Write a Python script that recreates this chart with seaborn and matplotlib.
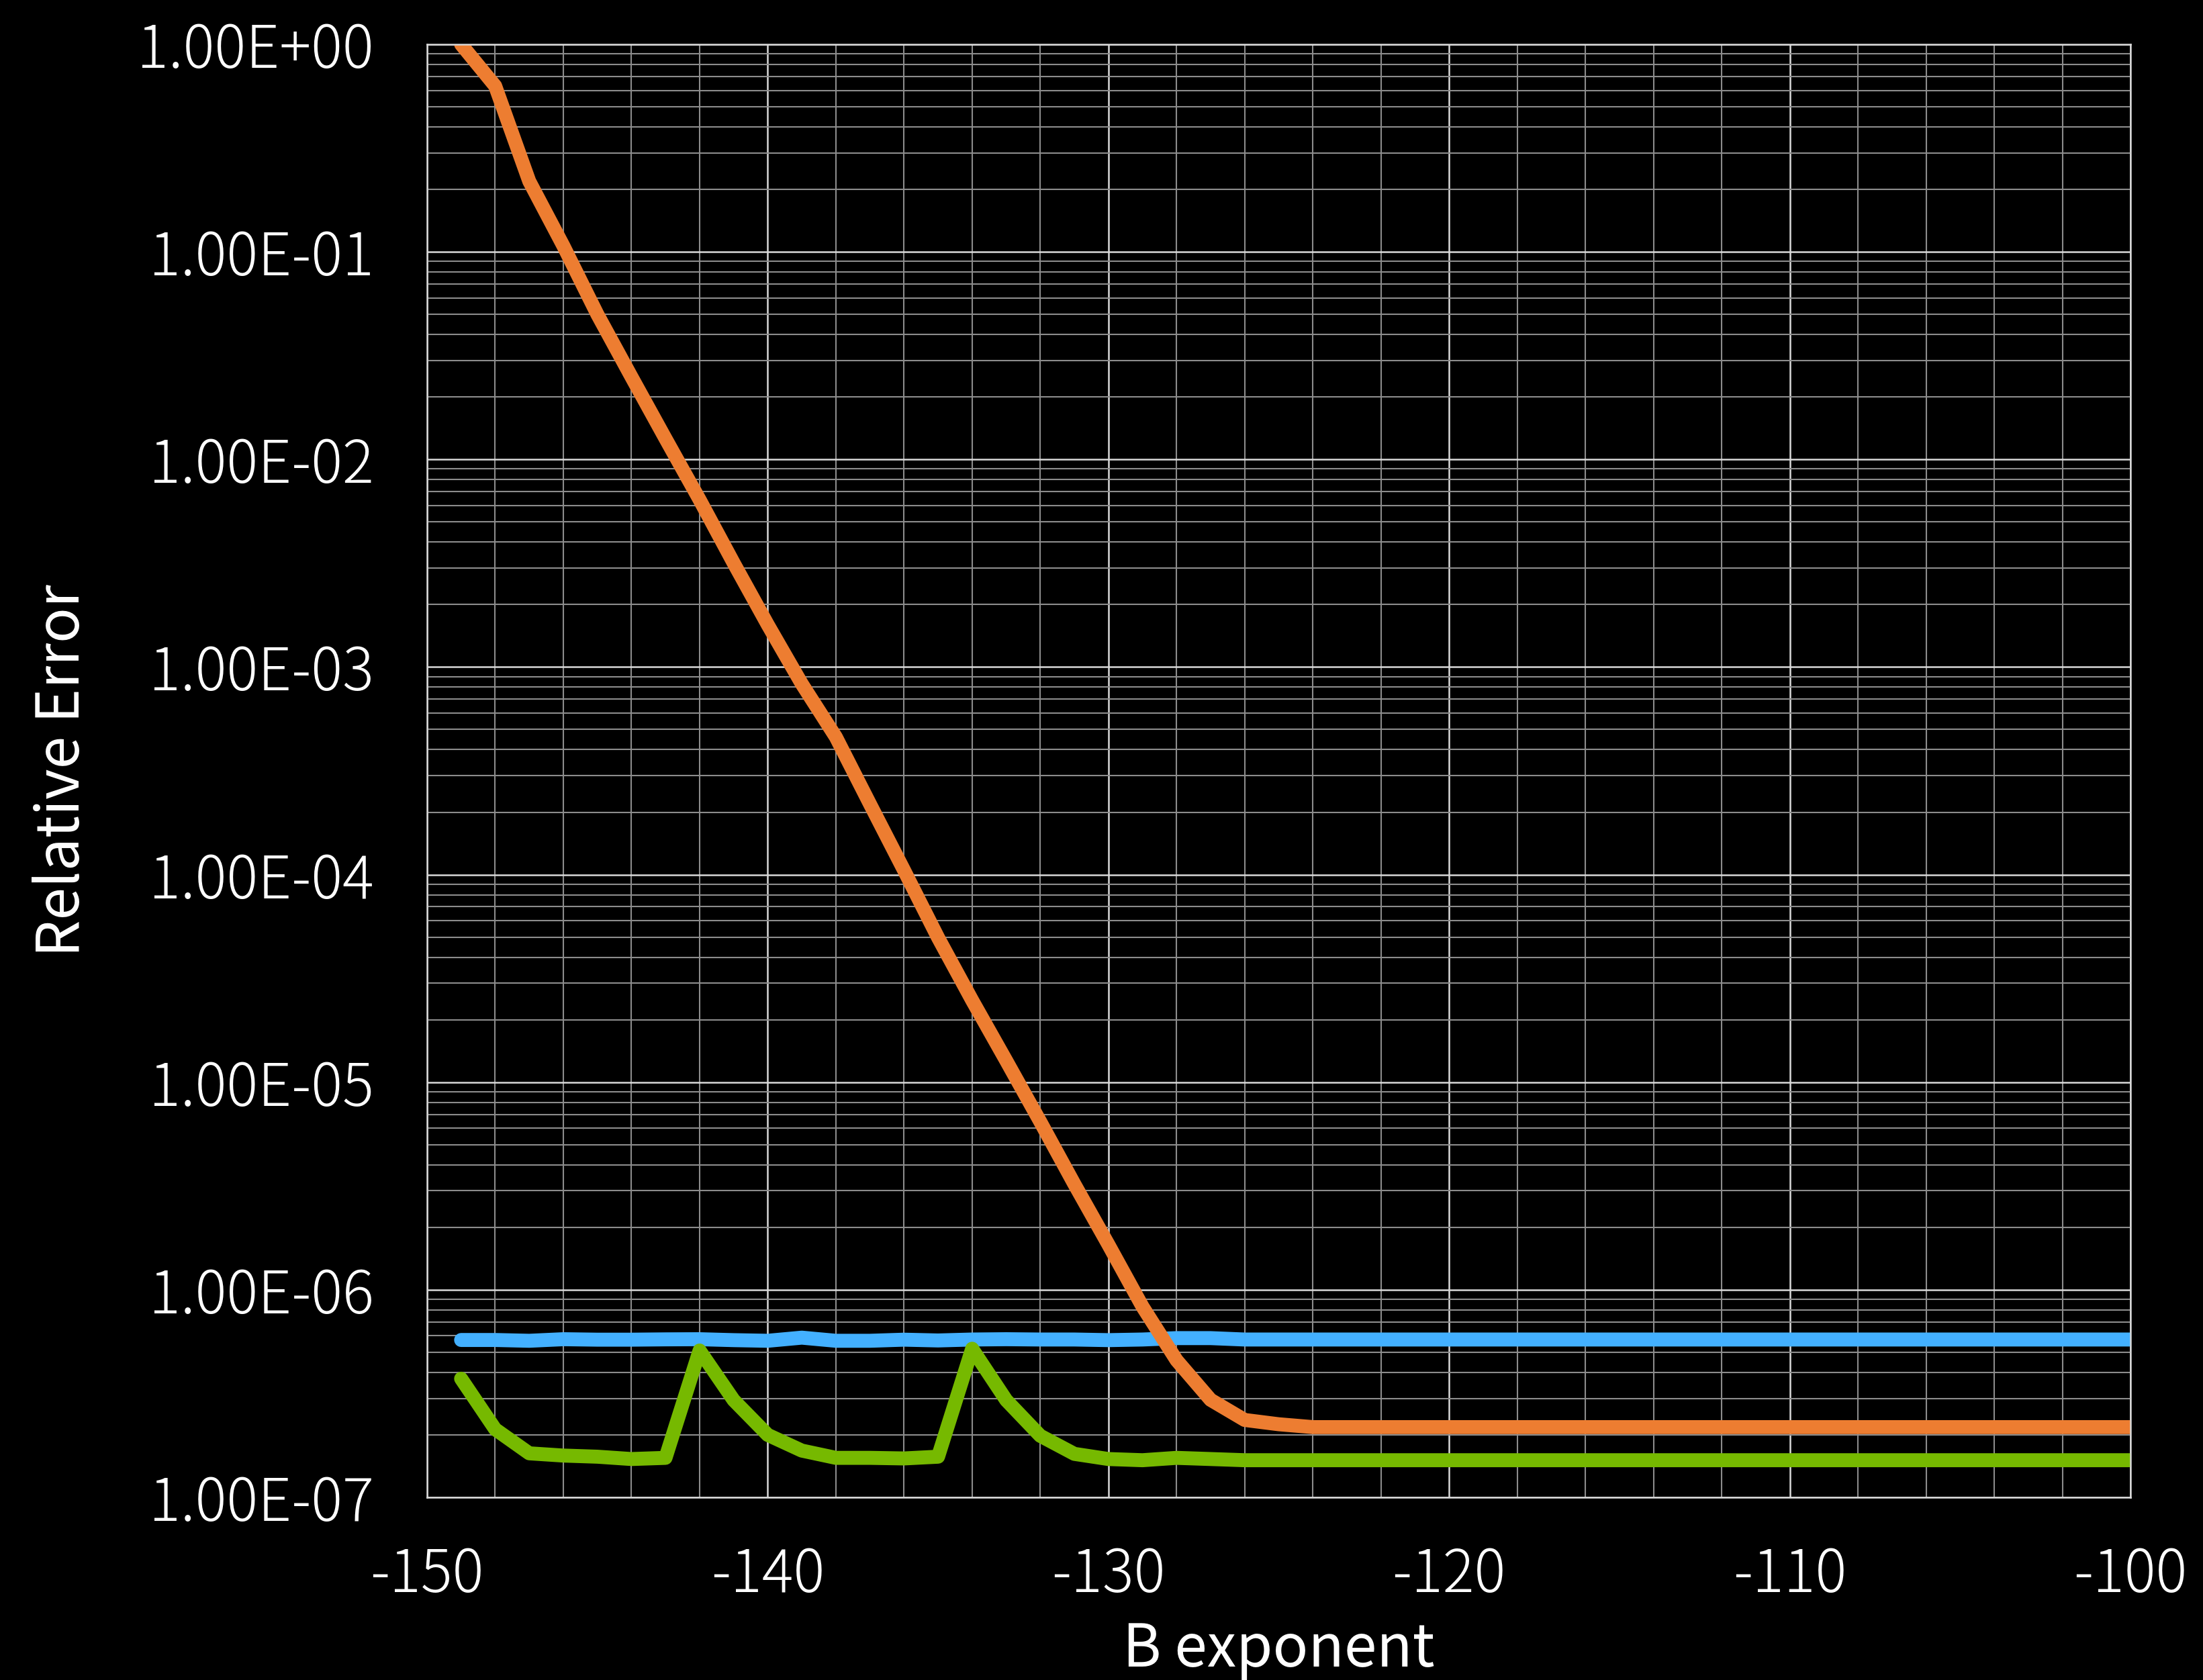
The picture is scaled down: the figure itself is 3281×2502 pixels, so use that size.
import numpy as np
import pandas as pd
import matplotlib
matplotlib.use("Agg")
import matplotlib.pyplot as plt
from matplotlib.ticker import MultipleLocator, LogLocator, FuncFormatter, NullFormatter
import seaborn as sns

# B exponent sweep
b_exponent = list(range(-149, -99))

# relative error of the three variants
err_blue = [5.73e-7, 5.73e-7, 5.68e-7, 5.78e-7, 5.75e-7, 5.75e-7, 5.77e-7, 5.78e-7,
            5.72e-7, 5.68e-7, 5.88e-7, 5.68e-7, 5.68e-7, 5.75e-7, 5.70e-7, 5.76e-7,
            5.78e-7, 5.76e-7, 5.76e-7, 5.72e-7, 5.76e-7, 5.85e-7, 5.85e-7] + [5.76e-7] * 27

err_orange = [1.0, 0.63, 0.219, 0.107, 0.050, 0.025, 0.0126, 6.4e-3, 3.17e-3, 1.6e-3,
              8.3e-4, 4.6e-4, 2.19e-4, 1.05e-4, 4.97e-5, 2.48e-5, 1.27e-5, 6.45e-6,
              3.23e-6, 1.65e-6, 8.3e-7, 4.58e-7, 2.95e-7, 2.36e-7, 2.25e-7, 2.18e-7] + [2.18e-7] * 24

err_green = [3.73e-7, 2.13e-7, 1.63e-7, 1.59e-7, 1.57e-7, 1.53e-7, 1.55e-7, 5.1e-7,
             2.94e-7, 2.0e-7, 1.68e-7, 1.55e-7, 1.55e-7, 1.54e-7, 1.57e-7, 5.2e-7,
             2.94e-7, 1.98e-7, 1.62e-7, 1.53e-7, 1.51e-7, 1.55e-7, 1.53e-7, 1.51e-7] + [1.51e-7] * 26

series_names = ["blue", "green", "orange"]
series_colors = {"blue": "#43B0FF", "green": "#76B900", "orange": "#ED7D31"}

df = pd.concat([
    pd.DataFrame({"B exponent": b_exponent, "Relative Error": err_blue, "series": "blue"}),
    pd.DataFrame({"B exponent": b_exponent, "Relative Error": err_green, "series": "green"}),
    pd.DataFrame({"B exponent": b_exponent, "Relative Error": err_orange, "series": "orange"}),
], ignore_index=True)

sns.set_theme(style="dark")
plt.rcParams["font.family"] = ["Noto Sans CJK JP", "DejaVu Sans"]
plt.rcParams["font.weight"] = "light"
plt.rcParams["axes.unicode_minus"] = False
plt.rcParams["figure.facecolor"] = "black"
plt.rcParams["axes.facecolor"] = "black"

W, H = 3281, 2502
fig = plt.figure(figsize=(W / 300, H / 300), dpi=300)
ax = fig.add_axes([636 / W, 1 - 2230 / H, (3173 - 636) / W, (2230 - 66) / H])
ax.set_facecolor("black")

sns.lineplot(data=df, x="B exponent", y="Relative Error", hue="series",
             hue_order=series_names, palette=series_colors, linewidth=5,
             legend=False, ax=ax, solid_capstyle="round", solid_joinstyle="round")

ax.set_yscale("log")
ax.set_xlim(-150, -100)
ax.set_ylim(1e-7, 1)

ax.xaxis.set_major_locator(MultipleLocator(10))
ax.xaxis.set_minor_locator(MultipleLocator(2))
ax.yaxis.set_major_locator(LogLocator(base=10, numticks=20))
ax.yaxis.set_minor_locator(LogLocator(base=10, subs=np.arange(2, 10), numticks=50))
ax.yaxis.set_major_formatter(FuncFormatter(lambda v, p: f"{v:.2E}"))
ax.yaxis.set_minor_formatter(NullFormatter())

ax.set_axisbelow(True)
ax.grid(which="major", color="#d9d9d9", linewidth=0.6)
ax.grid(which="minor", color="#8c8c8c", linewidth=0.5)
for s in ax.spines.values():
    s.set_visible(True)
    s.set_color("#d9d9d9")
    s.set_linewidth(0.6)

ax.tick_params(which="both", length=0, colors="white", labelsize=21)
ax.tick_params(axis="y", pad=19)
ax.tick_params(axis="x", pad=17)

ax.set_xlabel("B exponent", color="white", fontsize=21, labelpad=5)
ax.set_ylabel("Relative Error", color="white", fontsize=21, labelpad=16)

fig.savefig("out.png", dpi=300, facecolor="black")
